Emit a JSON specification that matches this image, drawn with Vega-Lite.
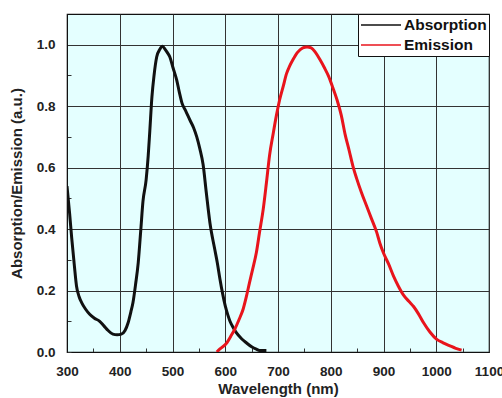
{
  "$schema": "https://vega.github.io/schema/vega-lite/v6.json",
  "width": 422,
  "height": 338,
  "autosize": "none",
  "padding": {"left": 67, "top": 14, "right": 13, "bottom": 46},
  "background": "white",
  "config": {
    "font": "Liberation Sans",
    "view": {"fill": "#e4ffff", "stroke": "#111", "strokeWidth": 1.2},
    "axis": {"domainColor": "#111", "gridColor": "#333", "gridWidth": 1, "tickColor": "#333", "labelFont": "Liberation Sans", "labelFontWeight": "bold", "labelFontSize": 13.5, "labelColor": "#222", "titleFont": "Liberation Sans", "titleFontWeight": "bold", "titleFontSize": 15, "titleColor": "#222"}
  },
  "data": {"values": [
    {"series": "Absorption", "wavelength": 300, "value": 0.54},
    {"series": "Absorption", "wavelength": 305, "value": 0.45},
    {"series": "Absorption", "wavelength": 309, "value": 0.37},
    {"series": "Absorption", "wavelength": 314, "value": 0.28},
    {"series": "Absorption", "wavelength": 318, "value": 0.215},
    {"series": "Absorption", "wavelength": 323, "value": 0.18},
    {"series": "Absorption", "wavelength": 328, "value": 0.16},
    {"series": "Absorption", "wavelength": 335, "value": 0.14},
    {"series": "Absorption", "wavelength": 343, "value": 0.123},
    {"series": "Absorption", "wavelength": 352, "value": 0.11},
    {"series": "Absorption", "wavelength": 362, "value": 0.1},
    {"series": "Absorption", "wavelength": 370, "value": 0.085},
    {"series": "Absorption", "wavelength": 378, "value": 0.07},
    {"series": "Absorption", "wavelength": 387, "value": 0.058},
    {"series": "Absorption", "wavelength": 395, "value": 0.056},
    {"series": "Absorption", "wavelength": 403, "value": 0.058},
    {"series": "Absorption", "wavelength": 410, "value": 0.07},
    {"series": "Absorption", "wavelength": 416, "value": 0.096},
    {"series": "Absorption", "wavelength": 421, "value": 0.13},
    {"series": "Absorption", "wavelength": 425, "value": 0.16},
    {"series": "Absorption", "wavelength": 430, "value": 0.22},
    {"series": "Absorption", "wavelength": 435, "value": 0.29},
    {"series": "Absorption", "wavelength": 440, "value": 0.4},
    {"series": "Absorption", "wavelength": 444, "value": 0.49},
    {"series": "Absorption", "wavelength": 450, "value": 0.56},
    {"series": "Absorption", "wavelength": 454, "value": 0.64},
    {"series": "Absorption", "wavelength": 457, "value": 0.72},
    {"series": "Absorption", "wavelength": 461, "value": 0.83},
    {"series": "Absorption", "wavelength": 465, "value": 0.9},
    {"series": "Absorption", "wavelength": 470, "value": 0.96},
    {"series": "Absorption", "wavelength": 476, "value": 0.985},
    {"series": "Absorption", "wavelength": 481, "value": 0.995},
    {"series": "Absorption", "wavelength": 486, "value": 0.985},
    {"series": "Absorption", "wavelength": 490, "value": 0.975},
    {"series": "Absorption", "wavelength": 495, "value": 0.96},
    {"series": "Absorption", "wavelength": 501, "value": 0.925},
    {"series": "Absorption", "wavelength": 508, "value": 0.885},
    {"series": "Absorption", "wavelength": 513, "value": 0.845},
    {"series": "Absorption", "wavelength": 518, "value": 0.81},
    {"series": "Absorption", "wavelength": 525, "value": 0.785},
    {"series": "Absorption", "wavelength": 533, "value": 0.755},
    {"series": "Absorption", "wavelength": 540, "value": 0.73},
    {"series": "Absorption", "wavelength": 546, "value": 0.7},
    {"series": "Absorption", "wavelength": 552, "value": 0.66},
    {"series": "Absorption", "wavelength": 558, "value": 0.61},
    {"series": "Absorption", "wavelength": 564, "value": 0.52},
    {"series": "Absorption", "wavelength": 571, "value": 0.42},
    {"series": "Absorption", "wavelength": 580, "value": 0.335},
    {"series": "Absorption", "wavelength": 585, "value": 0.29},
    {"series": "Absorption", "wavelength": 590, "value": 0.237},
    {"series": "Absorption", "wavelength": 595, "value": 0.19},
    {"series": "Absorption", "wavelength": 600, "value": 0.15},
    {"series": "Absorption", "wavelength": 605, "value": 0.12},
    {"series": "Absorption", "wavelength": 609, "value": 0.1},
    {"series": "Absorption", "wavelength": 615, "value": 0.08},
    {"series": "Absorption", "wavelength": 621, "value": 0.063},
    {"series": "Absorption", "wavelength": 630, "value": 0.045},
    {"series": "Absorption", "wavelength": 640, "value": 0.03},
    {"series": "Absorption", "wavelength": 650, "value": 0.017},
    {"series": "Absorption", "wavelength": 659, "value": 0.009},
    {"series": "Absorption", "wavelength": 665, "value": 0.005},
    {"series": "Absorption", "wavelength": 678, "value": 0.005},
    {"series": "Emission", "wavelength": 584, "value": 0.0},
    {"series": "Emission", "wavelength": 590, "value": 0.01},
    {"series": "Emission", "wavelength": 603, "value": 0.03},
    {"series": "Emission", "wavelength": 610, "value": 0.05},
    {"series": "Emission", "wavelength": 618, "value": 0.074},
    {"series": "Emission", "wavelength": 626, "value": 0.105},
    {"series": "Emission", "wavelength": 634, "value": 0.14},
    {"series": "Emission", "wavelength": 640, "value": 0.18},
    {"series": "Emission", "wavelength": 646, "value": 0.226},
    {"series": "Emission", "wavelength": 652, "value": 0.27},
    {"series": "Emission", "wavelength": 659, "value": 0.324},
    {"series": "Emission", "wavelength": 665, "value": 0.39},
    {"series": "Emission", "wavelength": 672, "value": 0.465},
    {"series": "Emission", "wavelength": 678, "value": 0.55},
    {"series": "Emission", "wavelength": 684, "value": 0.64},
    {"series": "Emission", "wavelength": 691, "value": 0.712},
    {"series": "Emission", "wavelength": 697, "value": 0.77},
    {"series": "Emission", "wavelength": 703, "value": 0.82},
    {"series": "Emission", "wavelength": 710, "value": 0.865},
    {"series": "Emission", "wavelength": 716, "value": 0.905},
    {"series": "Emission", "wavelength": 722, "value": 0.93},
    {"series": "Emission", "wavelength": 728, "value": 0.95},
    {"series": "Emission", "wavelength": 737, "value": 0.975},
    {"series": "Emission", "wavelength": 747, "value": 0.99},
    {"series": "Emission", "wavelength": 755, "value": 0.993},
    {"series": "Emission", "wavelength": 763, "value": 0.99},
    {"series": "Emission", "wavelength": 771, "value": 0.975},
    {"series": "Emission", "wavelength": 780, "value": 0.95},
    {"series": "Emission", "wavelength": 788, "value": 0.925},
    {"series": "Emission", "wavelength": 796, "value": 0.897},
    {"series": "Emission", "wavelength": 804, "value": 0.86},
    {"series": "Emission", "wavelength": 812, "value": 0.82},
    {"series": "Emission", "wavelength": 820, "value": 0.77},
    {"series": "Emission", "wavelength": 827, "value": 0.71},
    {"series": "Emission", "wavelength": 835, "value": 0.655},
    {"series": "Emission", "wavelength": 842, "value": 0.605},
    {"series": "Emission", "wavelength": 849, "value": 0.565},
    {"series": "Emission", "wavelength": 858, "value": 0.52},
    {"series": "Emission", "wavelength": 868, "value": 0.475},
    {"series": "Emission", "wavelength": 877, "value": 0.435},
    {"series": "Emission", "wavelength": 887, "value": 0.39},
    {"series": "Emission", "wavelength": 893, "value": 0.355},
    {"series": "Emission", "wavelength": 900, "value": 0.322},
    {"series": "Emission", "wavelength": 910, "value": 0.285},
    {"series": "Emission", "wavelength": 919, "value": 0.247},
    {"series": "Emission", "wavelength": 928, "value": 0.215},
    {"series": "Emission", "wavelength": 938, "value": 0.185},
    {"series": "Emission", "wavelength": 948, "value": 0.165},
    {"series": "Emission", "wavelength": 957, "value": 0.148},
    {"series": "Emission", "wavelength": 966, "value": 0.125},
    {"series": "Emission", "wavelength": 976, "value": 0.095},
    {"series": "Emission", "wavelength": 988, "value": 0.065},
    {"series": "Emission", "wavelength": 1001, "value": 0.041},
    {"series": "Emission", "wavelength": 1013, "value": 0.03},
    {"series": "Emission", "wavelength": 1026, "value": 0.02},
    {"series": "Emission", "wavelength": 1037, "value": 0.012},
    {"series": "Emission", "wavelength": 1048, "value": 0.006}
  ]},
  "mark": {"type": "line", "strokeWidth": 3, "interpolate": "monotone", "clip": true},
  "encoding": {
    "x": {
      "field": "wavelength", "type": "quantitative",
      "scale": {"domain": [300, 1100], "nice": false, "zero": false},
      "axis": {
        "title": "Wavelength (nm)",
        "values": [300, 350, 400, 450, 500, 550, 600, 650, 700, 750, 800, 850, 900, 950, 1000, 1050, 1100],
        "labelExpr": "datum.value % 100 === 0 ? datum.label : ''",
        "gridOpacity": {"condition": {"test": "datum.value % 100 === 0", "value": 1}, "value": 0},
        "tickSize": -4,
        "labelPadding": 16,
        "titlePadding": 4,
        "labelFlush": false,
        "format": "d"
      }
    },
    "y": {
      "field": "value", "type": "quantitative",
      "scale": {"domain": [0, 1.1], "nice": false},
      "axis": {
        "title": "Absorption/Emission (a.u.)",
        "values": [0, 0.1, 0.2, 0.3, 0.4, 0.5, 0.6, 0.7, 0.8, 0.9, 1.0],
        "format": ".1f",
        "labelExpr": "round(datum.value * 10) % 2 === 0 ? datum.label : ''",
        "gridOpacity": {"condition": {"test": "round(datum.value * 10) % 2 === 0", "value": 1}, "value": 0},
        "tickSize": -4,
        "labelPadding": 16,
        "titlePadding": 12,
        "labelFlush": false
      }
    },
    "color": {
      "field": "series", "type": "nominal",
      "scale": {"domain": ["Absorption", "Emission"], "range": ["#111111", "#e8141c"]},
      "legend": {
        "title": null,
        "orient": "top-right",
        "offset": 0,
        "fillColor": "white",
        "strokeColor": "#111",
        "padding": 2,
        "symbolType": "M-1,0H4",
        "symbolSize": 256,
        "symbolStrokeWidth": 1.6,
        "labelFont": "Liberation Sans",
        "labelFontWeight": "bold",
        "labelFontSize": 15.5,
        "labelColor": "#111",
        "labelOffset": 26,
        "rowPadding": 2
      }
    }
  }
}
